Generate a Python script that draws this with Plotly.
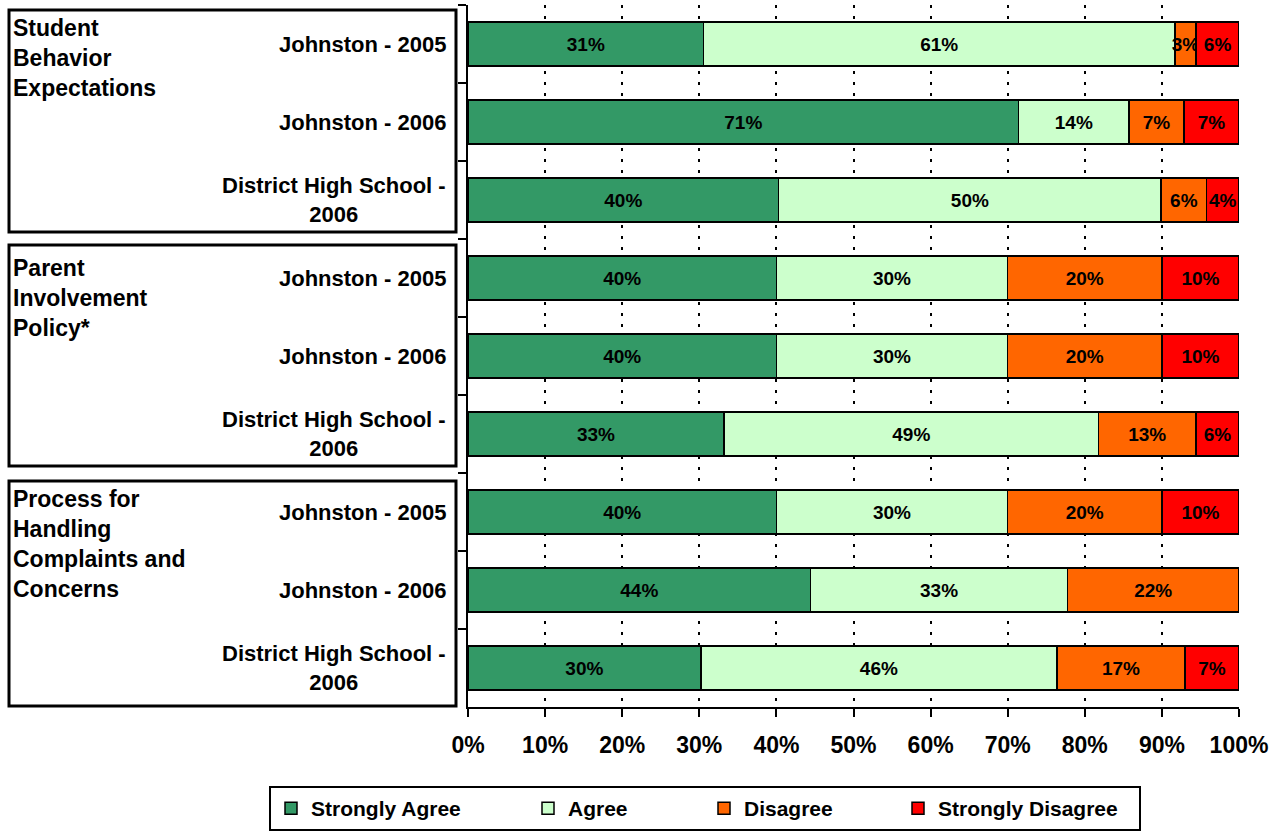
import plotly.graph_objects as go

# ---------------- data ----------------
groups = ["Student<br>Behavior<br>Expectations",
          "Parent<br>Involvement<br>Policy*",
          "Process for<br>Handling<br>Complaints and<br>Concerns"]
respondents = ["Johnston - 2005", "Johnston - 2006", "District High School -<br>2006"]
series_names = ["Strongly Agree", "Agree", "Disagree", "Strongly Disagree"]

strongly_agree    = [30.56, 71.43, 40.3, 40.0, 40.0, 33.2, 40.0, 44.44, 30.2]
agree             = [61.11, 14.29, 49.6, 30.0, 30.0, 48.6, 30.0, 33.33, 46.2]
disagree          = [2.78, 7.14, 5.9, 20.0, 20.0, 12.6, 20.0, 22.22, 16.6]
strongly_disagree = [5.56, 7.14, 4.2, 10.0, 10.0, 5.6, 10.0, 0.0, 7.0]

x_ticks = [0, 10, 20, 30, 40, 50, 60, 70, 80, 90, 100]
x_tick_labels = [f"{t}%" for t in x_ticks]

# ---------------- styling ----------------
colors = ["#339966", "#CCFFCC", "#FF6600", "#FF0000"]
legend_widths = [212, 131, 149, 196]
FONT = "Liberation Sans, Arial, sans-serif"

W, H = 1281, 831
L, R, T, B = 468, 42, 5, 124
PW, PH = W - L - R, H - T - B

def px_x(px):
    return (px - L) / PW

def px_y(py):
    return (H - B - py) / PH

# unique category keys (group index + respondent)
cat_keys = []
for gi, g in enumerate(groups):
    for r in respondents:
        cat_keys.append(f"{gi}|{r}")

fig = go.Figure()
values = [strongly_agree, agree, disagree, strongly_disagree]
for name, vals, col, lw in zip(series_names, values, colors, legend_widths):
    fig.add_trace(go.Bar(
        y=cat_keys, x=vals, name=name, orientation="h",
        marker=dict(color=col, line=dict(color="black", width=1.5)),
        text=[f"{round(v)}%" if v > 0 else "" for v in vals],
        textposition="inside", insidetextanchor="middle", textangle=0,
        textfont=dict(family=FONT, size=19, color="black", weight="bold"),
        constraintext="none",
        legendwidth=lw,
        hoverinfo="skip",
    ))

# category labels (centered multi-line, right aligned block)
for key in cat_keys:
    label = key.split("|", 1)[1]
    fig.add_annotation(
        x=px_x(448), xref="paper", y=key, yref="y",
        text=f"<b>{label}</b>", showarrow=False,
        xanchor="right", yanchor="middle", align="center",
        font=dict(family=FONT, size=22, color="black"),
    )

# group boxes and labels
box_px = [(10, 232), (245, 466), (481, 706)]
label_tops = [13, 253, 484]
for g, (top, bot), lt in zip(groups, box_px, label_tops):
    fig.add_shape(type="rect", xref="paper", yref="paper",
                  x0=px_x(9), x1=px_x(456), y0=px_y(bot), y1=px_y(top),
                  line=dict(color="black", width=3), fillcolor="rgba(0,0,0,0)")
    fig.add_annotation(
        x=px_x(11), xref="paper", y=px_y(lt), yref="paper",
        text=f"<b>{g}</b>", showarrow=False,
        xanchor="left", yanchor="top", align="left",
        font=dict(family=FONT, size=23, color="black"),
    )

fig.update_layout(
    width=W, height=H,
    margin=dict(l=L, r=R, t=T, b=B, autoexpand=False),
    barmode="stack", bargap=0.44,
    paper_bgcolor="white", plot_bgcolor="white",
    uniformtext=dict(minsize=19, mode="show"),
    showlegend=True,
    legend=dict(
        orientation="h", x=px_x(269), xanchor="left", y=px_y(786), yanchor="top",
        bordercolor="black", borderwidth=2, bgcolor="white",
        font=dict(family=FONT, size=21, color="black", weight="bold"),
        itemwidth=30, traceorder="normal",
    ),
    xaxis=dict(
        range=[0, 100], tickvals=x_ticks, ticktext=x_tick_labels,
        showgrid=True, gridcolor="black", gridwidth=2, griddash="3px,8px",
        zeroline=False, showline=True, linecolor="black", linewidth=1.5,
        ticks="outside", ticklen=8, tickcolor="black", tickwidth=1.5,
        ticklabelstandoff=9,
        tickfont=dict(family=FONT, size=23, color="black", weight="bold"),
        fixedrange=True,
    ),
    yaxis=dict(
        categoryorder="array", categoryarray=cat_keys, autorange="reversed",
        showticklabels=False, showgrid=False, zeroline=False,
        showline=True, linecolor="black", linewidth=1.5,
        ticks="outside", ticklen=8, tickcolor="black", tickwidth=1.5,
        tickson="boundaries", fixedrange=True,
    ),
)

fig.write_html("out.html",
               config={"displayModeBar": False},
               post_script="document.body.style.margin='0';document.body.style.overflow='hidden';")
